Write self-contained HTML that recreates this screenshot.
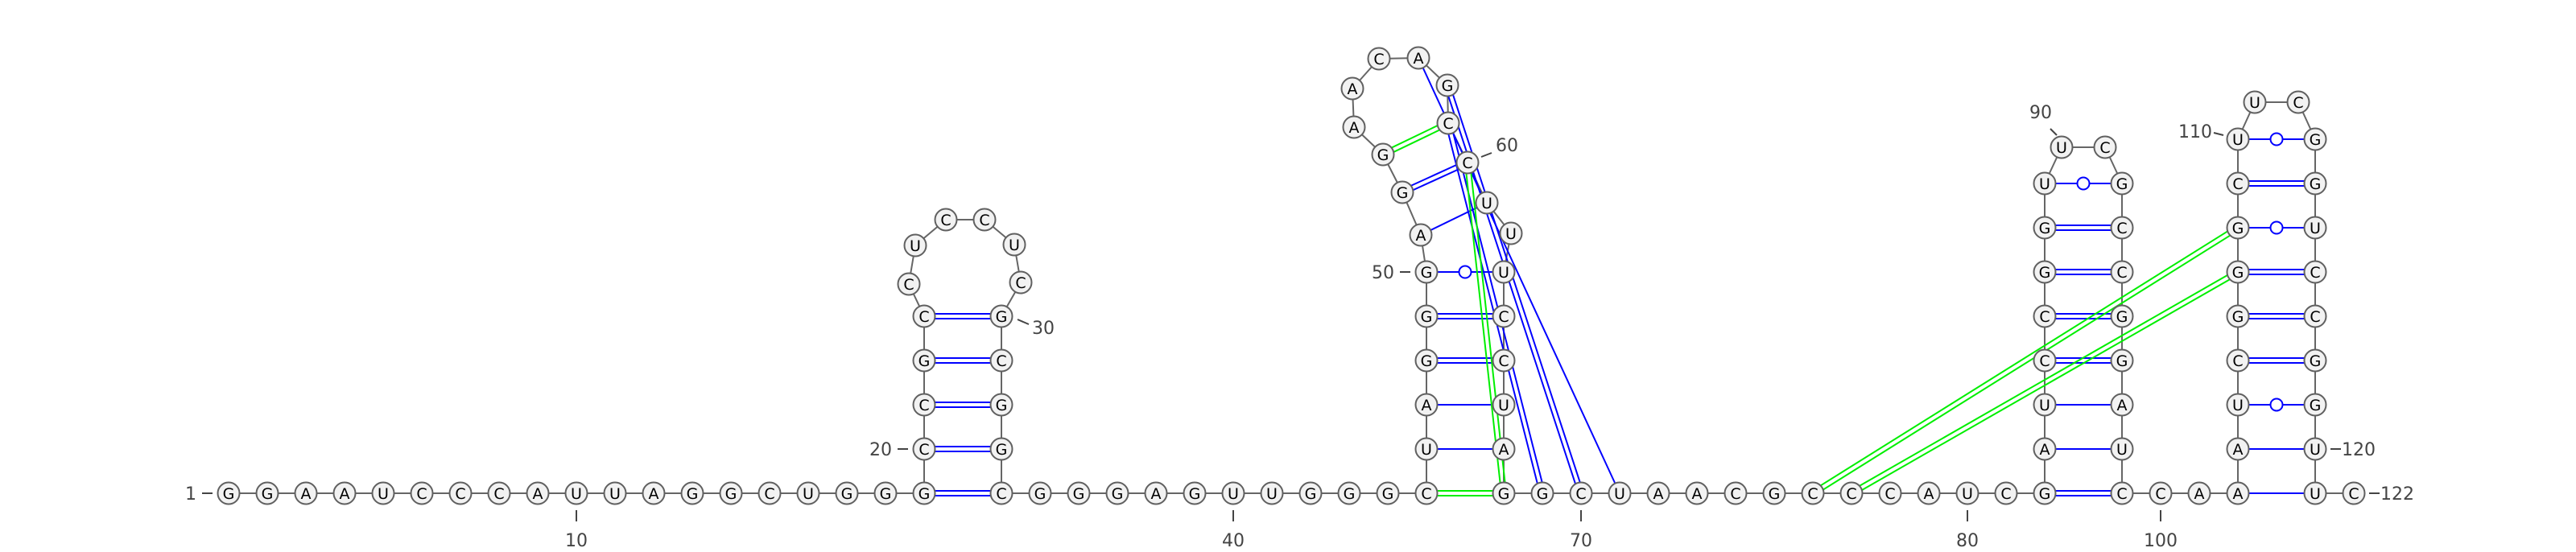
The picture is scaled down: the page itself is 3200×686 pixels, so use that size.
<!DOCTYPE html>
<html><head><meta charset="utf-8"><style>
html,body{margin:0;padding:0;background:#fff;}
svg{display:block;}
</style></head><body>
<svg id="rna" xmlns="http://www.w3.org/2000/svg" width="3200" height="686" viewBox="0 0 3200 686">
<g id="backbone"></g>
<g id="pairs"></g>
<g id="nts"></g>
<g id="labels"></g>
</svg>
<script>
// sequence (1-based positions)
const sequence = "GGAAUCCCAUUAGGCUGGG" + "CCGC" + "CUCCUC" + "GCGGC" + "GGGAGUUGGG" + "CUAGGG" +
  "AGGAACAGCCUU" + "UCCUAG" + "GCUAACGCCCAUC" + "GAUCCGGU" + "UC" + "GCCGGAUC" + "CA" +
  "AAUCGGGCU" + "UC" + "GGUCCGGUU" + "C";
// base pairs [i, j, colour]
const pairList = [
  [19,34,'b'],[20,33,'b'],[21,32,'b'],[22,31,'b'],[23,30,'b'],
  [45,68,'g'],[46,67,'b'],[47,66,'b'],[48,65,'b'],[49,64,'b'],[50,63,'b'],
  [51,61,'b'],[52,60,'b'],[53,59,'g'],
  [57,71,'b'],[58,70,'b'],[59,69,'b'],[60,68,'g'],
  [82,99,'b'],[83,98,'b'],[84,97,'b'],[85,96,'b'],[86,95,'b'],[87,94,'b'],[88,93,'b'],[89,92,'b'],
  [102,121,'b'],[103,120,'b'],[104,119,'b'],[105,118,'b'],[106,117,'b'],[107,116,'b'],[108,115,'b'],[109,114,'b'],[110,113,'b'],
  [108,76,'g'],[107,77,'g']
];
// layout runs: start pos, end pos, col start, col step, row start, row step
const gridRuns = [
  [1,19,0,1,0,0],
  [20,23,18,0,1,1],
  [30,33,20,0,4,-1],[34,44,20,1,0,0],
  [45,45,31,0,0,0],[46,50,31,0,1,1],
  [63,67,33,0,5,-1],[68,81,33,1,0,0],
  [82,82,47,0,0,0],[83,89,47,0,1,1],
  [92,98,49,0,7,-1],[99,101,49,1,0,0],
  [102,102,52,0,0,0],[103,110,52,0,1,1],
  [113,120,54,0,8,-1],[121,122,54,1,0,0]
];
// loop nucleotides (pixel layout of hairpin loops)
const loopPos = {24:[1129,353],25:[1137,305],26:[1175,273],27:[1223,273],28:[1260,304],29:[1268,351],
  51:[1765,292],52:[1742,239],53:[1718,192],54:[1682,158],55:[1680,110],56:[1713,73],57:[1762,72],
  58:[1798,106],59:[1799,153],60:[1823,202],61:[1847,252],62:[1877,290],
  90:[2561,183],91:[2615,183],111:[2801,127],112:[2855,127]};
// numbered labels: [position, kind]
const labelList = [[1,'left'],[10,'below'],[20,'left'],[30,'right30'],[40,'below'],[50,'left'],[60,'r60'],
  [70,'below'],[80,'below'],[90,'top90'],[100,'below'],[110,'left110'],[120,'right'],[122,'right']];

const X0=284, DX=48, Y0=613, DY=55, R=13.5;
const NS="http://www.w3.org/2000/svg";
const pos={};
gridRuns.forEach(r=>{for(let p=r[0];p<=r[1];p++){const n=p-r[0];pos[p]=[X0+DX*(r[2]+r[3]*n),Y0-DY*(r[4]+r[5]*n)];}});
Object.keys(loopPos).forEach(k=>pos[k]=loopPos[k]);
function mk(tag,attrs,parent){const e=document.createElementNS(NS,tag);for(const k in attrs)e.setAttribute(k,attrs[k]);parent.appendChild(e);return e;}
const gB=document.getElementById('backbone'),gP=document.getElementById('pairs'),gN=document.getElementById('nts'),gL=document.getElementById('labels');
for(let p=1;p<sequence.length;p++){
  const a=pos[p],b=pos[p+1];
  const l=mk('line',{x1:a[0],y1:a[1],x2:b[0],y2:b[1],stroke:'#666',"stroke-width":2},gB);
  
  
}
pairList.forEach(pr=>{
  const a=pos[pr[0]],b=pos[pr[1]];
  const col=pr[2]==='g'?'#00ee00':'#0000ff';
  const s=sequence[pr[0]-1]+sequence[pr[1]-1];
  const g=mk('g',{},gP);
  
  
  const dx=b[0]-a[0],dy=b[1]-a[1],L=Math.hypot(dx,dy),nx=-dy/L,ny=dx/L;
  if(s==='GC'||s==='CG'){
    [-3,3].forEach(o=>mk('line',{x1:a[0]+nx*o,y1:a[1]+ny*o,x2:b[0]+nx*o,y2:b[1]+ny*o,stroke:col,"stroke-width":2},g));
  }else{
    mk('line',{x1:a[0],y1:a[1],x2:b[0],y2:b[1],stroke:col,"stroke-width":2},g);
    if(s==='GU'||s==='UG') mk('circle',{cx:(a[0]+b[0])/2,cy:(a[1]+b[1])/2,r:7.5,fill:'#fff',stroke:col,"stroke-width":2},g);
  }
});
for(let p=1;p<=sequence.length;p++){
  const c=pos[p];
  const g=mk('g',{},gN);
  
  
  mk('circle',{cx:c[0],cy:c[1],r:R,fill:'#f2f2f2',stroke:'#606060',"stroke-width":2},g);
  const t=mk('text',{x:c[0],y:c[1]+7,"text-anchor":'middle',"font-family":'DejaVu Sans, Liberation Sans, sans-serif',"font-size":19,fill:'#000'},g);
  t.textContent=sequence[p-1];
}
labelList.forEach(lb=>{
  const c=pos[lb[0]],k=lb[1];
  const g=mk('g',{},gL);
  
  
  let tx,ty,anchor,x1,y1,x2,y2;
  if(k==='left'){x1=c[0]-33;x2=c[0]-20;y1=y2=c[1];tx=c[0]-40;ty=c[1]+8;anchor='end';}
  else if(k==='right'){x1=c[0]+19;x2=c[0]+32;y1=y2=c[1];tx=c[0]+33;ty=c[1]+8;anchor='start';}
  else if(k==='below'){x1=x2=c[0];y1=c[1]+21;y2=c[1]+35;tx=c[0];ty=c[1]+66;anchor='middle';}
  else if(k==='right30'){x1=c[0]+20;y1=c[1]+4;x2=c[0]+34;y2=c[1]+10;tx=c[0]+38;ty=c[1]+22;anchor='start';}
  else if(k==='r60'){x1=c[0]+17;y1=c[1]-7;x2=c[0]+30;y2=c[1]-12;tx=c[0]+35;ty=c[1]-14;anchor='start';}
  else if(k==='top90'){x1=c[0]-6;y1=c[1]-15;x2=c[0]-14;y2=c[1]-23;tx=c[0]-26;ty=c[1]-36;anchor='middle';}
  else if(k==='left110'){x1=c[0]-18;y1=c[1]-5;x2=c[0]-30;y2=c[1]-8;tx=c[0]-32;ty=c[1]-2;anchor='end';}
  mk('line',{x1:x1,y1:y1,x2:x2,y2:y2,stroke:'#444',"stroke-width":2},g);
  const t=mk('text',{x:tx,y:ty,"text-anchor":anchor,"font-family":'DejaVu Sans, Liberation Sans, sans-serif',"font-size":22,fill:'#444'},g);
  t.textContent=String(lb[0]);
});
</script>
</body></html>
